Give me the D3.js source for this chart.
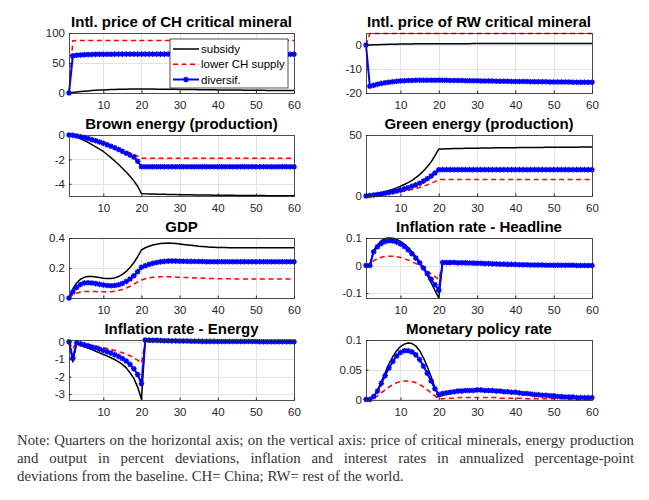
<!DOCTYPE html>
<html><head><meta charset="utf-8">
<script src="https://cdn.jsdelivr.net/npm/d3@7"></script>
<style>html,body{margin:0;padding:0;background:#fff;} svg{display:block}</style>
</head><body>
<svg id="c" width="649" height="500"></svg>
<script>
// ---------------- DATA ----------------
const quarters = d3.range(1, 61);
const xTicks = [10, 20, 30, 40, 50, 60];
const seriesNames = ["subsidy", "lower CH supply", "diversif."];

// Panel 1: Intl. price of CH critical mineral
const chSubsidy = [
0,0.9,1.7,2.4,3.0,3.5,4.0,4.4,4.8,5.1,
5.4,5.7,5.9,6.1,6.3,6.4,6.5,6.6,6.6,6.6,
6.6,6.5,6.5,6.4,6.4,6.3,6.2,6.2,6.1,6.0,
5.9,5.9,5.8,5.7,5.6,5.5,5.5,5.4,5.3,5.2,
5.1,5.1,5.0,4.9,4.8,4.8,4.7,4.6,4.6,4.5,
4.4,4.4,4.3,4.3,4.2,4.2,4.1,4.1,4.0,4.0];
const chLower = [
0,87.2,87.5,87.5,87.5,87.5,87.5,87.5,87.5,87.5,
87.5,87.5,87.5,87.5,87.5,87.5,87.5,87.5,87.5,87.5,
87.5,87.5,87.5,87.5,87.5,87.5,87.5,87.5,87.5,87.5,
87.5,87.5,87.5,87.5,87.5,87.5,87.5,87.5,87.5,87.5,
87.5,87.5,87.5,87.5,87.5,87.5,87.5,87.5,87.5,87.5,
87.5,87.5,87.5,87.5,87.5,87.5,87.5,87.5,87.5,87.5];
const chDivers = [
0,62.0,62.8,63.3,63.7,64.0,64.2,64.4,64.5,64.6,
64.7,64.7,64.8,64.8,64.8,64.8,64.8,64.8,64.8,64.8,
64.8,64.8,64.8,64.8,64.8,64.8,64.8,64.8,64.8,64.8,
64.8,64.8,64.7,64.7,64.7,64.7,64.7,64.7,64.7,64.7,
64.7,64.7,64.7,64.6,64.6,64.6,64.6,64.6,64.6,64.6,
64.6,64.6,64.5,64.5,64.5,64.5,64.5,64.5,64.5,64.5];

// Panel 2: Intl. price of RW critical mineral
const rwSubsidy = [
0,0.05,0.1,0.15,0.2,0.25,0.3,0.33,0.36,0.39,
0.42,0.44,0.46,0.48,0.5,0.51,0.52,0.53,0.54,0.55,
0.55,0.56,0.56,0.56,0.57,0.57,0.57,0.57,0.58,0.58,
0.58,0.58,0.58,0.59,0.59,0.59,0.59,0.59,0.59,0.6,
0.6,0.6,0.6,0.6,0.6,0.6,0.6,0.6,0.6,0.6,
0.6,0.6,0.6,0.6,0.6,0.6,0.6,0.6,0.6,0.6];
const rwLower = [
0,4.8,4.8,4.8,4.8,4.8,4.8,4.8,4.8,4.8,
4.8,4.8,4.8,4.8,4.8,4.8,4.8,4.8,4.8,4.8,
4.8,4.8,4.8,4.8,4.8,4.8,4.8,4.8,4.8,4.8,
4.8,4.8,4.8,4.8,4.8,4.8,4.8,4.8,4.8,4.8,
4.8,4.8,4.8,4.8,4.8,4.8,4.8,4.8,4.8,4.8,
4.8,4.8,4.8,4.8,4.8,4.8,4.8,4.8,4.8,4.8];
const rwDivers = [
0,-17.2,-16.8,-16.4,-16.0,-15.7,-15.5,-15.3,-15.1,-15.0,
-14.9,-14.8,-14.8,-14.7,-14.7,-14.7,-14.7,-14.7,-14.7,-14.7,
-14.7,-14.7,-14.8,-14.8,-14.8,-14.8,-14.9,-14.9,-14.9,-14.9,
-15.0,-15.0,-15.0,-15.0,-15.1,-15.1,-15.1,-15.1,-15.2,-15.2,
-15.2,-15.2,-15.2,-15.3,-15.3,-15.3,-15.3,-15.3,-15.4,-15.4,
-15.4,-15.4,-15.4,-15.4,-15.5,-15.5,-15.5,-15.5,-15.5,-15.5];

// Panel 3: Brown energy (production)
const brownSubsidy = [
0,-0.07,-0.17,-0.3,-0.45,-0.61,-0.79,-0.97,-1.16,-1.35,
-1.6,-1.86,-2.13,-2.42,-2.72,-3.04,-3.38,-3.76,-4.2,-4.8,
-4.82,-4.83,-4.84,-4.85,-4.86,-4.86,-4.87,-4.88,-4.88,-4.89,
-4.89,-4.9,-4.9,-4.91,-4.91,-4.92,-4.92,-4.92,-4.93,-4.93,
-4.93,-4.94,-4.94,-4.94,-4.95,-4.95,-4.95,-4.95,-4.96,-4.96,
-4.96,-4.96,-4.97,-4.97,-4.97,-4.97,-4.98,-4.98,-4.98,-4.98];
const brownLower = [
0,-0.03,-0.08,-0.14,-0.21,-0.29,-0.38,-0.47,-0.57,-0.67,
-0.78,-0.89,-1.0,-1.11,-1.23,-1.35,-1.47,-1.6,-1.74,-1.9,
-1.9,-1.9,-1.9,-1.9,-1.9,-1.9,-1.9,-1.9,-1.9,-1.9,
-1.9,-1.9,-1.9,-1.9,-1.9,-1.9,-1.9,-1.9,-1.9,-1.9,
-1.9,-1.9,-1.9,-1.9,-1.9,-1.9,-1.9,-1.9,-1.9,-1.9,
-1.9,-1.9,-1.9,-1.9,-1.9,-1.9,-1.9,-1.9,-1.9,-1.9];
const brownDivers = [
0,-0.03,-0.08,-0.14,-0.21,-0.29,-0.38,-0.47,-0.57,-0.68,
-0.8,-0.92,-1.05,-1.19,-1.34,-1.5,-1.65,-1.8,-2.15,-2.6,
-2.6,-2.6,-2.6,-2.6,-2.6,-2.6,-2.6,-2.6,-2.6,-2.6,
-2.6,-2.6,-2.6,-2.6,-2.6,-2.6,-2.6,-2.6,-2.6,-2.6,
-2.6,-2.6,-2.6,-2.6,-2.6,-2.6,-2.6,-2.6,-2.6,-2.6,
-2.6,-2.6,-2.6,-2.6,-2.6,-2.6,-2.6,-2.6,-2.6,-2.6];

// Panel 4: Green energy (production)
const greenSubsidy = [
0,0.6,1.3,2.0,2.8,3.6,4.5,5.5,6.7,8.0,
9.4,11.0,12.8,15.0,17.5,20.5,24.0,28.0,33.0,38.5,
38.6,38.7,38.8,38.9,38.9,39.0,39.1,39.1,39.2,39.2,
39.3,39.3,39.4,39.4,39.5,39.5,39.5,39.6,39.6,39.6,
39.7,39.7,39.7,39.8,39.8,39.8,39.8,39.9,39.9,39.9,
39.9,40.0,40.0,40.0,40.0,40.0,40.1,40.1,40.1,40.1];
const greenLower = [
0,0.3,0.6,0.9,1.2,1.6,2.0,2.4,2.9,3.4,
4.0,4.6,5.3,6.1,7.0,8.0,9.1,10.4,11.8,13.5,
13.6,13.6,13.6,13.6,13.6,13.6,13.6,13.6,13.6,13.6,
13.6,13.6,13.6,13.6,13.6,13.6,13.6,13.6,13.6,13.6,
13.6,13.6,13.6,13.6,13.6,13.6,13.6,13.6,13.6,13.6,
13.6,13.6,13.6,13.6,13.6,13.6,13.6,13.6,13.6,13.6];
const greenDivers = [
0,0.4,0.8,1.2,1.7,2.2,2.8,3.4,4.1,4.9,
5.8,6.8,7.9,9.1,10.5,12.2,14.1,16.3,18.8,21.5,
21.6,21.6,21.6,21.6,21.6,21.6,21.6,21.6,21.6,21.6,
21.6,21.6,21.6,21.6,21.6,21.6,21.6,21.6,21.6,21.6,
21.6,21.6,21.6,21.6,21.6,21.6,21.6,21.6,21.6,21.6,
21.6,21.6,21.6,21.6,21.6,21.6,21.6,21.6,21.6,21.6];

// Panel 5: GDP
const gdpSubsidy = [
0,0.06,0.1,0.125,0.138,0.143,0.143,0.14,0.136,0.132,
0.13,0.13,0.134,0.143,0.157,0.177,0.203,0.235,0.275,0.32,
0.335,0.345,0.353,0.359,0.363,0.365,0.366,0.365,0.363,0.36,
0.357,0.354,0.351,0.348,0.345,0.343,0.341,0.339,0.338,0.337,
0.336,0.336,0.335,0.335,0.335,0.335,0.335,0.335,0.335,0.335,
0.335,0.335,0.335,0.335,0.335,0.335,0.335,0.335,0.335,0.335];
const gdpLower = [
0,0.02,0.032,0.04,0.043,0.044,0.044,0.043,0.042,0.041,
0.041,0.042,0.045,0.05,0.057,0.066,0.078,0.092,0.107,0.12,
0.128,0.134,0.138,0.14,0.141,0.141,0.141,0.14,0.139,0.138,
0.137,0.136,0.135,0.134,0.133,0.132,0.131,0.13,0.13,0.129,
0.129,0.128,0.128,0.128,0.127,0.127,0.127,0.127,0.127,0.127,
0.127,0.127,0.127,0.127,0.127,0.127,0.127,0.127,0.127,0.127];
const gdpDivers = [
0,0.04,0.07,0.09,0.1,0.102,0.1,0.096,0.091,0.087,
0.083,0.082,0.083,0.088,0.097,0.11,0.127,0.148,0.175,0.205,
0.215,0.224,0.231,0.237,0.241,0.244,0.246,0.246,0.246,0.245,
0.245,0.244,0.244,0.243,0.243,0.243,0.242,0.242,0.242,0.242,
0.242,0.242,0.242,0.242,0.242,0.242,0.242,0.242,0.242,0.242,
0.242,0.242,0.242,0.242,0.242,0.242,0.242,0.242,0.242,0.242];

// Panel 6: Inflation rate - Headline
const infSubsidy = [
0,0,0.055,0.075,0.09,0.098,0.1,0.099,0.095,0.088,
0.078,0.065,0.05,0.033,0.013,-0.01,-0.035,-0.062,-0.09,-0.118,
0.01,0.01,0.01,0.01,0.01,0.009,0.009,0.009,0.008,0.008,
0.007,0.007,0.006,0.006,0.005,0.005,0.004,0.004,0.003,0.003,
0.003,0.002,0.002,0.002,0.002,0.001,0.001,0.001,0.001,0.001,
0.001,0.001,0.001,0.001,0,0,0,0,0,0];
const infLower = [
0,0,0.018,0.025,0.03,0.033,0.034,0.034,0.032,0.029,
0.025,0.02,0.014,0.007,-0.001,-0.01,-0.02,-0.03,-0.04,-0.05,
0.005,0.005,0.005,0.005,0.004,0.004,0.004,0.004,0.003,0.003,
0.003,0.003,0.002,0.002,0.002,0.002,0.002,0.001,0.001,0.001,
0.001,0.001,0.001,0.001,0.001,0,0,0,0,0,
0,0,0,0,0,0,0,0,0,0];
const infDivers = [
0,0,0.05,0.068,0.08,0.087,0.09,0.089,0.085,0.078,
0.069,0.057,0.043,0.027,0.01,-0.009,-0.029,-0.05,-0.07,-0.09,
0.011,0.011,0.011,0.011,0.01,0.01,0.01,0.009,0.009,0.008,
0.008,0.007,0.007,0.006,0.006,0.005,0.005,0.004,0.004,0.004,
0.003,0.003,0.003,0.002,0.002,0.002,0.002,0.001,0.001,0.001,
0.001,0.001,0.001,0.001,0.001,0,0,0,0,0];

// Panel 7: Inflation rate - Energy
const enSubsidy = [
0,-1.15,-0.1,-0.2,-0.28,-0.36,-0.45,-0.55,-0.64,-0.73,
-0.82,-0.92,-1.02,-1.15,-1.3,-1.5,-1.78,-2.1,-2.6,-3.3,
0.06,0.06,0.06,0.05,0.05,0.05,0.04,0.04,0.04,0.04,
0.03,0.03,0.03,0.03,0.02,0.02,0.02,0.02,0.02,0.01,
0.01,0.01,0.01,0.01,0.01,0.01,0.01,0.01,0.01,0.01,
0,0,0,0,0,0,0,0,0,0];
const enLower = [
0,-0.4,-0.03,-0.07,-0.11,-0.15,-0.19,-0.24,-0.29,-0.34,
-0.39,-0.44,-0.5,-0.56,-0.63,-0.71,-0.8,-0.92,-1.06,-1.22,
0.02,0.02,0.02,0.02,0.02,0.02,0.01,0.01,0.01,0.01,
0.01,0.01,0.01,0.01,0.01,0.01,0.01,0.01,0.01,0.01,
0,0,0,0,0,0,0,0,0,0,
0,0,0,0,0,0,0,0,0,0];
const enDivers = [
0,-0.95,-0.05,-0.12,-0.18,-0.24,-0.3,-0.36,-0.43,-0.5,
-0.57,-0.65,-0.74,-0.84,-0.96,-1.1,-1.3,-1.55,-1.88,-2.4,
0.1,0.09,0.08,0.08,0.07,0.06,0.06,0.05,0.05,0.04,
0.04,0.04,0.03,0.03,0.03,0.02,0.02,0.02,0.02,0.01,
0.01,0.01,0.01,0.01,0.01,0.01,0.01,0.01,0.01,0.01,
0,0,0,0,0,0,0,0,0,0];

// Panel 8: Monetary policy rate
const mpSubsidy = [
0,0,0.005,0.015,0.03,0.045,0.06,0.072,0.082,0.089,
0.093,0.095,0.094,0.09,0.082,0.07,0.055,0.038,0.02,0.005,
0.007,0.009,0.01,0.011,0.012,0.013,0.013,0.014,0.014,0.014,
0.014,0.014,0.013,0.013,0.013,0.012,0.012,0.011,0.011,0.01,
0.01,0.009,0.009,0.008,0.008,0.007,0.007,0.006,0.006,0.005,
0.005,0.005,0.004,0.004,0.004,0.003,0.003,0.003,0.003,0.002];
const mpLower = [
0,0,0.002,0.006,0.011,0.016,0.021,0.025,0.028,0.03,
0.031,0.031,0.03,0.028,0.025,0.021,0.016,0.011,0.006,0.001,
0.001,0.002,0.002,0.002,0.003,0.003,0.003,0.003,0.003,0.003,
0.003,0.003,0.003,0.003,0.003,0.002,0.002,0.002,0.002,0.002,
0.002,0.002,0.001,0.001,0.001,0.001,0.001,0.001,0.001,0.001,
0.001,0.001,0.001,0,0,0,0,0,0,0];
const mpDivers = [
0,0,0.005,0.014,0.027,0.04,0.053,0.064,0.073,0.079,
0.082,0.082,0.08,0.075,0.067,0.056,0.044,0.031,0.018,0.008,
0.01,0.011,0.012,0.013,0.014,0.014,0.015,0.015,0.015,0.016,
0.016,0.015,0.015,0.015,0.014,0.014,0.013,0.013,0.012,0.012,
0.011,0.01,0.01,0.009,0.008,0.008,0.007,0.007,0.006,0.006,
0.005,0.005,0.004,0.004,0.004,0.003,0.003,0.003,0.003,0.003];

const titles = ["Intl. price of CH critical mineral","Intl. price of RW critical mineral",
  "Brown energy (production)","Green energy (production)","GDP","Inflation rate - Headline",
  "Inflation rate - Energy","Monetary policy rate"];
const yTicks = [[0,50,100],[-20,-10,0],[-4,-2,0],[0,50],[0,0.2,0.4],[-0.1,0,0.1],[-3,-2,-1,0],[0,0.05,0.1]];
const yDomains = [[0,100],[-20,5],[-5,0],[0,50],[0,0.4],[-0.118,0.1],[-3.34,0.1],[-0.001,0.1]];
const panelData = [
  [chSubsidy, chLower, chDivers],[rwSubsidy, rwLower, rwDivers],
  [brownSubsidy, brownLower, brownDivers],[greenSubsidy, greenLower, greenDivers],
  [gdpSubsidy, gdpLower, gdpDivers],[infSubsidy, infLower, infDivers],
  [enSubsidy, enLower, enDivers],[mpSubsidy, mpLower, mpDivers]];

const noteLines = [
  "Note: Quarters on the horizontal axis; on the vertical axis: price of critical minerals, energy production",
  "and output in percent deviations, inflation and interest rates in annualized percentage-point",
  "deviations from the baseline. CH= China; RW= rest of the world."];

// ---------------- DRAW ----------------
const svg = d3.select("#c");
const cols = [[69,294],[366,592]];
const rows = [[33,93],[135,196],[238,298],[340,400]];
const styles = [
  {stroke:"#000000", width:1.5, dash:null, marker:false},
  {stroke:"#ff0000", width:1.5, dash:"5,3.5", marker:false},
  {stroke:"#0000ff", width:2, dash:null, marker:true}];
const axisCol = "#262626";
const font = "'Liberation Sans', Arial, Helvetica, sans-serif";

function starPath(cx, cy) {
  const a = 2.8, b = 2.0;
  return `M${cx-a},${cy}L${cx+a},${cy}M${cx},${cy-a}L${cx},${cy+a}` +
         `M${cx-b},${cy-b}L${cx+b},${cy+b}M${cx-b},${cy+b}L${cx+b},${cy-b}`;
}

panelData.forEach((series, pi) => {
  const c = pi % 2, r = Math.floor(pi / 2);
  const [x0, x1] = cols[c], [y0, y1] = rows[r];
  const x = d3.scaleLinear().domain([1, 60]).range([x0, x1]);
  const y = d3.scaleLinear().domain(yDomains[pi]).range([y1, y0]);
  const g = svg.append("g");

  // grid
  const gx = g.append("g").attr("transform", `translate(0,${y1})`)
    .call(d3.axisBottom(x).tickValues(xTicks).tickSize(-(y1 - y0)).tickFormat(""));
  gx.select(".domain").remove();
  gx.selectAll("line").attr("stroke", "#e3e3e3").attr("shape-rendering", "crispEdges");
  const gy = g.append("g").attr("transform", `translate(${x0},0)`)
    .call(d3.axisLeft(y).tickValues(yTicks[pi]).tickSize(-(x1 - x0)).tickFormat(""));
  gy.select(".domain").remove();
  gy.selectAll("line").attr("stroke", "#e3e3e3").attr("shape-rendering", "crispEdges");

  // lines
  const line = d3.line().x((d, i) => x(quarters[i])).y(d => y(d));
  series.forEach((vals, si) => {
    const st = styles[si];
    g.append("path").datum(vals).attr("d", line).attr("fill", "none")
      .attr("stroke", st.stroke).attr("stroke-width", st.width)
      .attr("stroke-dasharray", st.dash).attr("stroke-linejoin", "round");
    if (st.marker) {
      g.append("path").attr("d", vals.map((v, i) => starPath(x(quarters[i]), y(v))).join(""))
        .attr("stroke", st.stroke).attr("stroke-width", 1.4).attr("fill", "none");
    }
  });

  // box
  g.append("rect").attr("x", x0).attr("y", y0).attr("width", x1 - x0).attr("height", y1 - y0)
    .attr("fill", "none").attr("stroke", axisCol).attr("stroke-width", 0.8)
    .attr("shape-rendering", "crispEdges");

  // axes labels
  const ax = g.append("g").attr("transform", `translate(0,${y1})`)
    .call(d3.axisBottom(x).tickValues(xTicks).tickSize(-2.5).tickPadding(8).tickFormat(d3.format("d")));
  ax.select(".domain").remove();
  ax.selectAll("line").attr("stroke", axisCol);
  ax.selectAll("text").attr("fill", axisCol).style("font-family", font).style("font-size", "11.5px");
  const fmt = v => String(+v.toFixed(3));
  const ay = g.append("g").attr("transform", `translate(${x0},0)`)
    .call(d3.axisLeft(y).tickValues(yTicks[pi]).tickSize(-2.5).tickPadding(4).tickFormat(fmt));
  ay.select(".domain").remove();
  ay.selectAll("line").attr("stroke", axisCol);
  ay.selectAll("text").attr("fill", axisCol).style("font-family", font).style("font-size", "11.5px");

  // title
  g.append("text").attr("x", (x0 + x1) / 2).attr("y", y0 - 6).attr("text-anchor", "middle")
    .style("font-family", font).style("font-size", "15px").style("font-weight", "bold")
    .attr("fill", "#000").text(titles[pi]);
});

// legend (first panel)
{
  const lg = svg.append("g");
  lg.append("rect").attr("x", 170).attr("y", 39).attr("width", 118).attr("height", 49)
    .attr("fill", "#fff").attr("stroke", axisCol).attr("stroke-width", 0.8);
  const ly = d3.scalePoint().domain(seriesNames).range([49, 79.5]);
  seriesNames.forEach((n, i) => {
    const st = styles[i], yy = ly(n);
    lg.append("line").attr("x1", 173).attr("x2", 199).attr("y1", yy).attr("y2", yy)
      .attr("stroke", st.stroke).attr("stroke-width", st.width).attr("stroke-dasharray", st.dash);
    if (st.marker) lg.append("path").attr("d", starPath(186, yy)).attr("stroke", st.stroke)
      .attr("stroke-width", 1.4);
    lg.append("text").attr("x", 201).attr("y", yy + 4).text(n)
      .style("font-family", font).style("font-size", "11.5px").attr("fill", "#000");
  });
}

// note
{
  const nf = "'Liberation Serif', 'Times New Roman', serif";
  const left = 17, right = 634, baseY = [445, 463, 481];
  // size so that the last line matches its width in the reference
  const probe = svg.append("text").style("font-family", nf).style("font-size", "14px").text(noteLines[2]);
  const w = probe.node().getComputedTextLength();
  probe.remove();
  const fs = 14 * 387 / w;
  const ng = svg.append("g").style("font-family", nf).style("font-size", fs + "px").attr("fill", "#333");
  noteLines.forEach((ln, li) => {
    if (li === 2) {
      ng.append("text").attr("x", left).attr("y", baseY[li]).text(ln);
      return;
    }
    const words = ln.split(" ");
    const ws = words.map(wd => {
      const t = ng.append("text").text(wd);
      const l = t.node().getComputedTextLength(); t.remove(); return l;
    });
    const total = d3.sum(ws);
    const gap = (right - left - total) / (words.length - 1);
    let cx = left;
    words.forEach((wd, i) => {
      ng.append("text").attr("x", cx).attr("y", baseY[li]).text(wd);
      cx += ws[i] + gap;
    });
  });
}
</script>
</body></html>
